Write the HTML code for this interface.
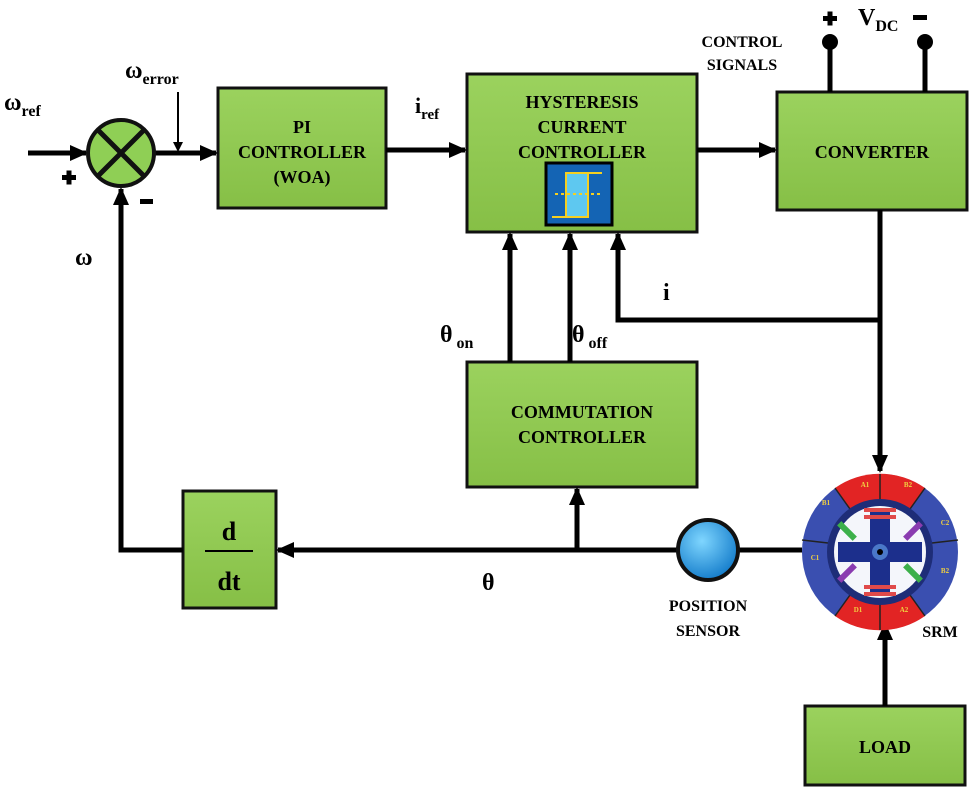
<!DOCTYPE html>
<html><head><style>body{margin:0;background:#fff}svg{display:block}</style></head><body>
<svg width="975" height="792" viewBox="0 0 975 792" xmlns="http://www.w3.org/2000/svg" font-family="Liberation Serif, serif" font-weight="bold">
<defs>
<marker id="a" markerWidth="10" markerHeight="10" refX="8" refY="5" orient="auto" markerUnits="userSpaceOnUse"><path d="M0,0 L10,5 L0,10 z" fill="#000"/></marker>
<marker id="b" markerWidth="18" markerHeight="16" refX="16" refY="8" orient="auto" markerUnits="userSpaceOnUse"><path d="M0,0 L18,8 L0,16 z" fill="#000"/></marker>
<linearGradient id="g" x1="0" y1="0" x2="0" y2="1"><stop offset="0" stop-color="#9bd25e"/><stop offset="1" stop-color="#86bf46"/></linearGradient>
<radialGradient id="s" cx="0.4" cy="0.35" r="0.7"><stop offset="0" stop-color="#7fd6ff"/><stop offset="1" stop-color="#0f78c8"/></radialGradient>
</defs>
<g stroke="#111" stroke-width="3" fill="url(#g)">
<rect x="218" y="88" width="168" height="120"/>
<rect x="467" y="74" width="230" height="158"/>
<rect x="777" y="92" width="190" height="118"/>
<rect x="467" y="362" width="230" height="125"/>
<rect x="183" y="491" width="93" height="117"/>
<rect x="805" y="706" width="160" height="79"/>
</g>
<rect x="546" y="163" width="66" height="62" fill="#1464b4" stroke="#000" stroke-width="3"/>
<g stroke="#f5d020" stroke-width="2" fill="none"><rect x="566" y="173" width="22" height="44" fill="#5ec8f0"/><line x1="588" y1="173" x2="602" y2="173"/><line x1="552" y1="217" x2="566" y2="217"/><line x1="555" y1="194" x2="603" y2="194" stroke-dasharray="3,3"/></g>
<g stroke="#000" stroke-width="5" fill="none">
<line x1="28" y1="153" x2="86" y2="153" marker-end="url(#b)"/>
<line x1="155" y1="153" x2="216" y2="153" marker-end="url(#b)"/>
<line x1="386" y1="150" x2="465" y2="150" marker-end="url(#b)"/>
<line x1="697" y1="150" x2="775" y2="150" marker-end="url(#b)"/>
<polyline points="183,550 121,550 121,189" marker-end="url(#b)"/>
<line x1="880" y1="210" x2="880" y2="471" marker-end="url(#b)"/>
<polyline points="880,320 618,320 618,234" marker-end="url(#b)"/>
<line x1="510" y1="362" x2="510" y2="234" marker-end="url(#b)"/>
<line x1="570" y1="362" x2="570" y2="234" marker-end="url(#b)"/>
<line x1="802" y1="550" x2="738" y2="550"/>
<line x1="678" y1="550" x2="278" y2="550" marker-end="url(#b)"/>
<line x1="577" y1="550" x2="577" y2="489" marker-end="url(#b)"/>
<line x1="885" y1="706" x2="885" y2="624" marker-end="url(#b)"/>
<line x1="830" y1="92" x2="830" y2="42"/>
<line x1="925" y1="92" x2="925" y2="42"/>
</g>
<line x1="178" y1="92" x2="178" y2="150" stroke="#000" stroke-width="2" marker-end="url(#a)"/>
<circle cx="830" cy="42" r="8" fill="#000"/><circle cx="925" cy="42" r="8" fill="#000"/>
<circle cx="121" cy="153" r="33" fill="#8fcf55" stroke="#111" stroke-width="4"/>
<g stroke="#111" stroke-width="5"><line x1="98" y1="130" x2="144" y2="176"/><line x1="144" y1="130" x2="98" y2="176"/></g>
<circle cx="708" cy="550" r="30" fill="url(#s)" stroke="#111" stroke-width="4"/>
<!-- SRM -->
<circle cx="880" cy="552" r="78" fill="#3a4fb0"/>
<path d="M880,552 L835,488 A78,78 0 0 1 925,488 Z" fill="#e22424"/>
<path d="M880,552 L835,616 A78,78 0 0 0 925,616 Z" fill="#e22424"/>
<g stroke="#222" stroke-width="1.5">
<line x1="880" y1="474" x2="880" y2="500"/><line x1="880" y1="630" x2="880" y2="604"/>
<line x1="835" y1="488" x2="850" y2="509"/><line x1="925" y1="488" x2="910" y2="509"/>
<line x1="835" y1="616" x2="850" y2="595"/><line x1="925" y1="616" x2="910" y2="595"/>
<line x1="802" y1="540" x2="828" y2="543"/><line x1="958" y1="540" x2="932" y2="543"/>
</g>
<circle cx="880" cy="552" r="53" fill="#1e2d78"/>
<circle cx="880" cy="552" r="46" fill="#f4f6fb"/>
<rect x="870" y="510" width="20" height="84" fill="#1c2f8c"/><rect x="838" y="542" width="84" height="20" fill="#1c2f8c"/>
<g fill="#e04a4a"><rect x="864" y="508" width="32" height="4"/><rect x="864" y="515" width="32" height="4"/><rect x="864" y="585" width="32" height="4"/><rect x="864" y="592" width="32" height="4"/></g>
<g fill="#3cb04a"><rect x="844" y="520" width="6" height="22" transform="rotate(-45 847 531)"/><rect x="910" y="562" width="6" height="22" transform="rotate(-45 913 573)"/></g>
<g fill="#8a3cb0"><rect x="910" y="520" width="6" height="22" transform="rotate(45 913 531)"/><rect x="844" y="562" width="6" height="22" transform="rotate(45 847 573)"/></g>
<circle cx="880" cy="552" r="8" fill="#4a78c8"/><circle cx="880" cy="552" r="3" fill="#000"/>
<g font-size="7" fill="#f0d040" text-anchor="middle"><text x="865" y="487">A1</text><text x="908" y="487">B2</text><text x="945" y="525">C2</text><text x="945" y="573">B2</text><text x="904" y="612">A2</text><text x="858" y="612">D1</text><text x="815" y="560">C1</text><text x="826" y="505">B1</text></g>
<g text-anchor="middle" font-size="18">
<text x="302" y="133">PI</text><text x="302" y="158">CONTROLLER</text><text x="302" y="183">(WOA)</text>
<text x="582" y="108">HYSTERESIS</text><text x="582" y="133">CURRENT</text><text x="582" y="158">CONTROLLER</text>
<text x="872" y="158">CONVERTER</text>
<text x="582" y="418">COMMUTATION</text><text x="582" y="443">CONTROLLER</text>
<text x="885" y="753">LOAD</text>
<text x="742" y="47" font-size="16">CONTROL</text><text x="742" y="70" font-size="16">SIGNALS</text>
<text x="708" y="611" font-size="16">POSITION</text><text x="708" y="636" font-size="16">SENSOR</text>
<text x="940" y="637" font-size="16">SRM</text>
<text x="229" y="540" font-size="26">d</text><text x="229" y="590" font-size="26">dt</text>
</g>
<line x1="205" y1="551" x2="253" y2="551" stroke="#000" stroke-width="2"/>
<g font-size="24">
<text x="4" y="110">ω<tspan font-size="16" dy="6">ref</tspan></text>
<text x="125" y="78">ω<tspan font-size="16" dy="6">error</tspan></text>
<text x="415" y="113" font-size="22">i<tspan font-size="15" dy="6">ref</tspan></text>
<text x="75" y="265">ω</text>
<text x="440" y="342">θ<tspan font-size="16" dx="4" dy="6">on</tspan></text>
<text x="572" y="342">θ<tspan font-size="16" dx="4" dy="6">off</tspan></text>
<text x="663" y="300">i</text>
<text x="482" y="590">θ</text>
<text x="858" y="25">V<tspan font-size="16" dy="6">DC</tspan></text>
</g>
<g fill="#000">
<rect x="62" y="175" width="14" height="5"/><rect x="66.5" y="170.5" width="5" height="14"/>
<rect x="140" y="199" width="13" height="5"/>
<rect x="823" y="16" width="14" height="5"/><rect x="827.5" y="11.5" width="5" height="14"/>
<rect x="913" y="15" width="14" height="5"/>
</g>
</svg>
</body></html>
